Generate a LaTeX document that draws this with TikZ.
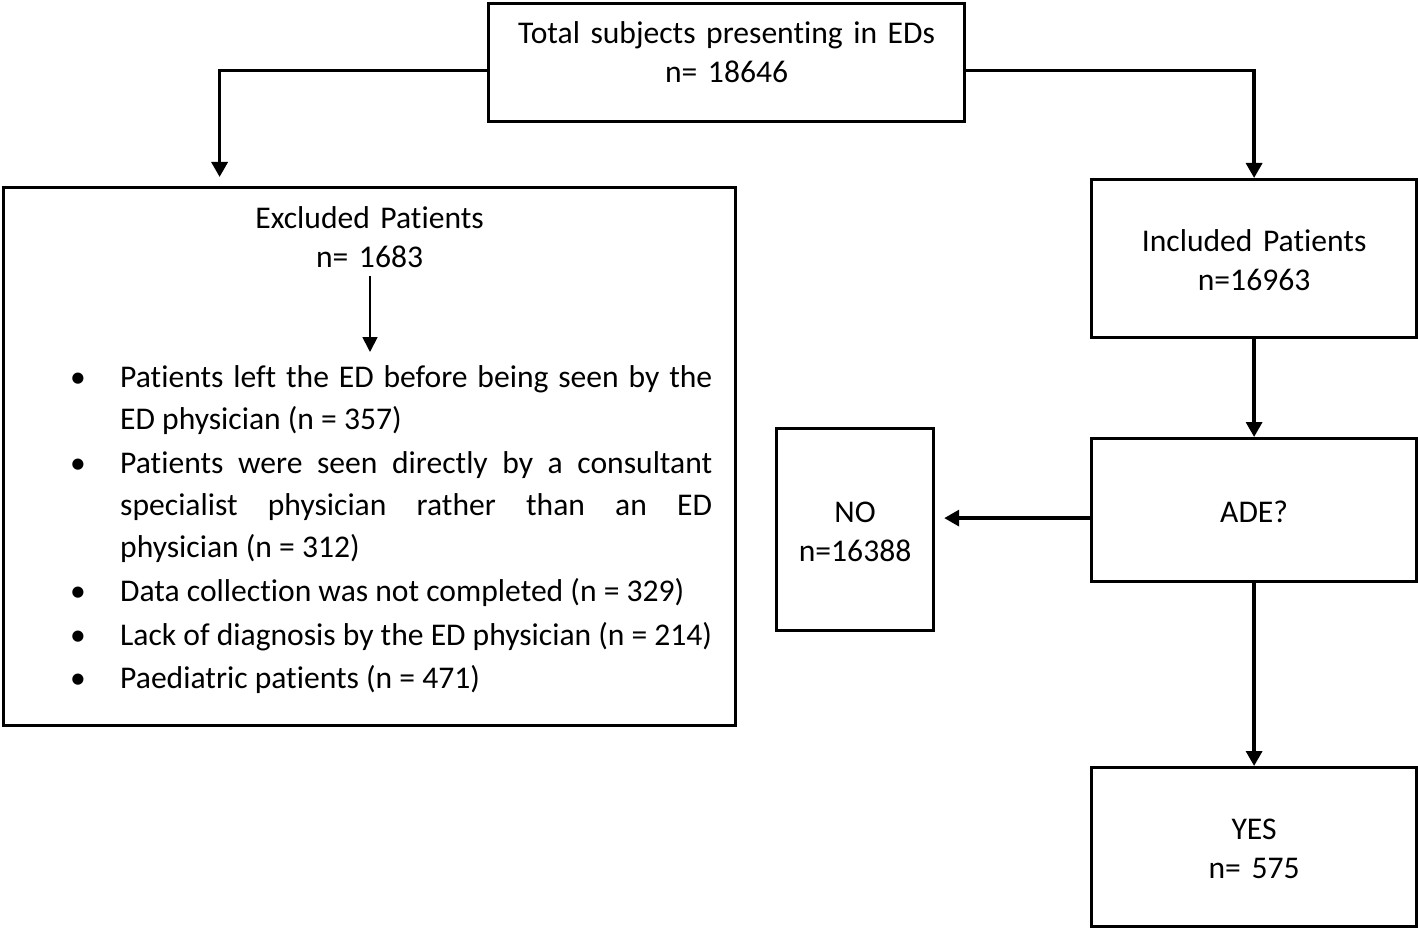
\documentclass[tikz,border=0pt]{standalone}
\usepackage{fontspec}
\setmainfont{Carlito}[Ligatures={NoCommon}]
\usepackage{tikz}
\usepackage{xcolor}
\usetikzlibrary{positioning}
\usetikzlibrary{arrows.meta}
\hyphenpenalty=10000
\exhyphenpenalty=10000

\begin{document}
\begin{tikzpicture}
[
x=1pt, y=-1pt,
box-a/.style={draw, line width=3.2pt, inner sep=0pt, align=center, anchor=north west, font=\fontsize{31.6pt}{39pt}\selectfont},
text-a/.style={black, inner sep=0pt, font=\fontsize{31.6pt}{42pt}\selectfont},
item-a/.style={text-a, text width=592pt, align=justify, anchor=base west},
dot-a/.style={text-a, anchor=base},
flow-a/.style={-{Triangle[length=15pt,width=16pt]}, line width=3.4pt},
flow-b/.style={-{Triangle[length=15pt,width=15pt]}, line width=1.8pt}
]
\useasboundingbox (0,0) rectangle (1418,928);
\node (total)  [box-a, text width=476pt, text height=40pt, text depth=78pt]  at (487,2)    {Total subjects presenting in EDs\\n= 18646};
\node (excl)   [box-a, text width=732pt, text height=41pt, text depth=497pt] at (2,186)    {Excluded Patients\\n= 1683};
\node (incl)   [box-a, text width=325pt, text height=72pt, text depth=86pt]  at (1090,178) {Included Patients\\n=16963};
\node (ade)    [box-a, text width=325pt, text height=84pt, text depth=59pt]  at (1090,437) {ADE?};
\node (no)     [box-a, text width=157pt, text height=94pt, text depth=108pt] at (775,427)  {NO\\n=16388};
\node (yes)    [box-a, text width=325pt, text height=72pt, text depth=87pt]  at (1090,766) {YES\\n= 575};
\node (item-1) [item-a] at (120,387) {Patients left the ED before being seen by the\linebreak ED physician (n = 357)};
\node (item-2) [item-a] at (120,473) {Patients were seen directly by a consultant\linebreak specialist physician rather than an ED\linebreak physician (n = 312)};
\node (item-3) [item-a] at (120,601) {Data collection was not completed (n = 329)};
\node (item-4) [item-a] at (120,645) {Lack of diagnosis by the ED physician (n = 214)};
\node (item-5) [item-a] at (120,688) {Paediatric patients (n = 471)};
\node (dot-1)  [dot-a] at (78,387) {•};
\node (dot-2)  [dot-a] at (78,473) {•};
\node (dot-3)  [dot-a] at (78,601) {•};
\node (dot-4)  [dot-a] at (78,645) {•};
\node (dot-5)  [dot-a] at (78,688) {•};
\coordinate (drop-a) at (370,276);
\coordinate (drop-b) at (370,352);
\draw [flow-a] ([yshift=-8pt]total.west) -| ([xshift=-150pt,yshift=9pt]excl.north);
\draw [flow-a] ([yshift=-8pt]total.east) -| (incl.north);
\draw [flow-a] (incl.south) -- (ade.north);
\draw [flow-a, shorten >=9pt] ([yshift=-8pt]ade.west) -- ([yshift=-8pt]ade.west -| no.east);
\draw [flow-a] (ade.south) -- (yes.north);
\draw [flow-b] (drop-a) -- (drop-b);
\end{tikzpicture}
\end{document}
